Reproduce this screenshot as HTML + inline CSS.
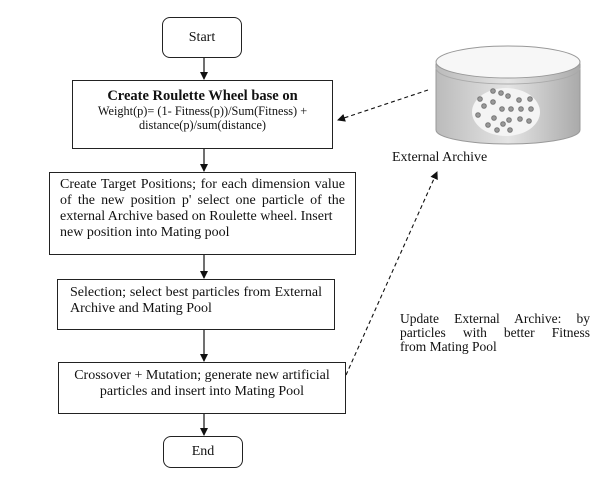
<!DOCTYPE html>
<html><head><style>
body{margin:0;width:602px;height:481px;background:#fff;position:relative;font-family:"Liberation Serif",serif;color:#111;overflow:hidden}
.b{position:absolute;border:1.3px solid #222;box-sizing:border-box;background:#fff}
.r{border-radius:8px;text-align:center;font-size:14px}
.t{position:absolute;font-size:13px;line-height:15px}
.j{text-align:justify;text-align-last:left}
.jl{text-align:justify;text-align-last:justify}
</style></head><body>
<svg width="602" height="481" style="position:absolute;left:0;top:0">
<defs>
<marker id="a" markerWidth="8" markerHeight="8" refX="7" refY="4" orient="auto" markerUnits="userSpaceOnUse"><path d="M0,0 L8,4 L0,8z" fill="#111"/></marker>
<linearGradient id="g" x1="0" x2="1"><stop offset="0" stop-color="#bbb"/><stop offset="0.5" stop-color="#e4e4e4"/><stop offset="1" stop-color="#aaa"/></linearGradient>
</defs>
<g stroke="#111" stroke-width="1.2" marker-end="url(#a)">
<line x1="204" y1="58" x2="204" y2="79"/>
<line x1="204" y1="149" x2="204" y2="171"/>
<line x1="204" y1="255" x2="204" y2="278"/>
<line x1="204" y1="330" x2="204" y2="361"/>
<line x1="204" y1="414" x2="204" y2="435"/>
</g>
<g stroke="#111" stroke-width="1.1" stroke-dasharray="4,3" fill="none" marker-end="url(#a)">
<line x1="428" y1="90" x2="338" y2="120"/>
<line x1="346" y1="375" x2="437" y2="172"/>
</g>
<path d="M436,64 L436,130 A72,14 0 0 0 580,130 L580,64 Z" fill="url(#g)" stroke="#999"/>
<ellipse cx="508" cy="62" rx="72" ry="16" fill="#f7f7f7" stroke="#999"/>
<path d="M436,68 A72,16 0 0 0 580,68" fill="none" stroke="#aaa"/>
<ellipse cx="506" cy="112" rx="34" ry="24" fill="#f4f4f4"/>
<g fill="#999" stroke="#777" stroke-width="1">
<circle cx="493" cy="91" r="2.3"/><circle cx="501" cy="93" r="2.3"/><circle cx="508" cy="96" r="2.3"/><circle cx="519" cy="100" r="2.3"/><circle cx="530" cy="99" r="2.3"/>
<circle cx="480" cy="99" r="2.3"/><circle cx="493" cy="102" r="2.3"/><circle cx="484" cy="106" r="2.3"/><circle cx="502" cy="109" r="2.3"/><circle cx="511" cy="109" r="2.3"/><circle cx="521" cy="109" r="2.3"/><circle cx="531" cy="109" r="2.3"/>
<circle cx="478" cy="115" r="2.3"/><circle cx="494" cy="118" r="2.3"/><circle cx="509" cy="120" r="2.3"/><circle cx="520" cy="119" r="2.3"/><circle cx="529" cy="121" r="2.3"/>
<circle cx="488" cy="125" r="2.3"/><circle cx="503" cy="124" r="2.3"/><circle cx="510" cy="130" r="2.3"/><circle cx="497" cy="130" r="2.3"/>
</g>
</svg>
<div class="b r" style="left:162px;top:17px;width:80px;height:41px;line-height:39px">Start</div>
<div class="b" style="left:72px;top:80px;width:261px;height:69px;text-align:center;padding-top:7px">
<div style="font-weight:bold;font-size:14.5px;line-height:16px">Create Roulette Wheel base on</div>
<div style="font-size:12.3px;line-height:14px">Weight(p)= (1- Fitness(p))/Sum(Fitness) +<br>distance(p)/sum(distance)</div></div>
<div class="b" style="left:49px;top:172px;width:307px;height:83px;padding:4px 10px 0 10px"><div class="j" style="font-size:14px;line-height:16px">Create Target Positions; for each dimension value of the new position p' select one particle of the external Archive based on Roulette wheel. Insert<br>new position into Mating pool</div></div>
<div class="b" style="left:57px;top:279px;width:278px;height:51px;padding:5px 12px 0 12px"><div class="j" style="font-size:14px;line-height:16px">Selection; select best particles from External Archive and Mating Pool</div></div>
<div class="b" style="left:58px;top:362px;width:288px;height:52px;padding:5px 8px 0 8px;text-align:center;font-size:14px;line-height:16px">Crossover + Mutation; generate new artificial particles and insert into Mating Pool</div>
<div class="b r" style="left:163px;top:436px;width:80px;height:32px;line-height:30px">End</div>
<div class="t" style="left:392px;top:150px;font-size:14px">External Archive</div>
<div class="t" style="left:400px;top:312px;width:190px;font-size:13.5px;line-height:14px">
<div class="jl">Update External Archive: by</div>
<div class="jl">particles with better Fitness</div>
<div>from Mating Pool</div></div>
</body></html>
